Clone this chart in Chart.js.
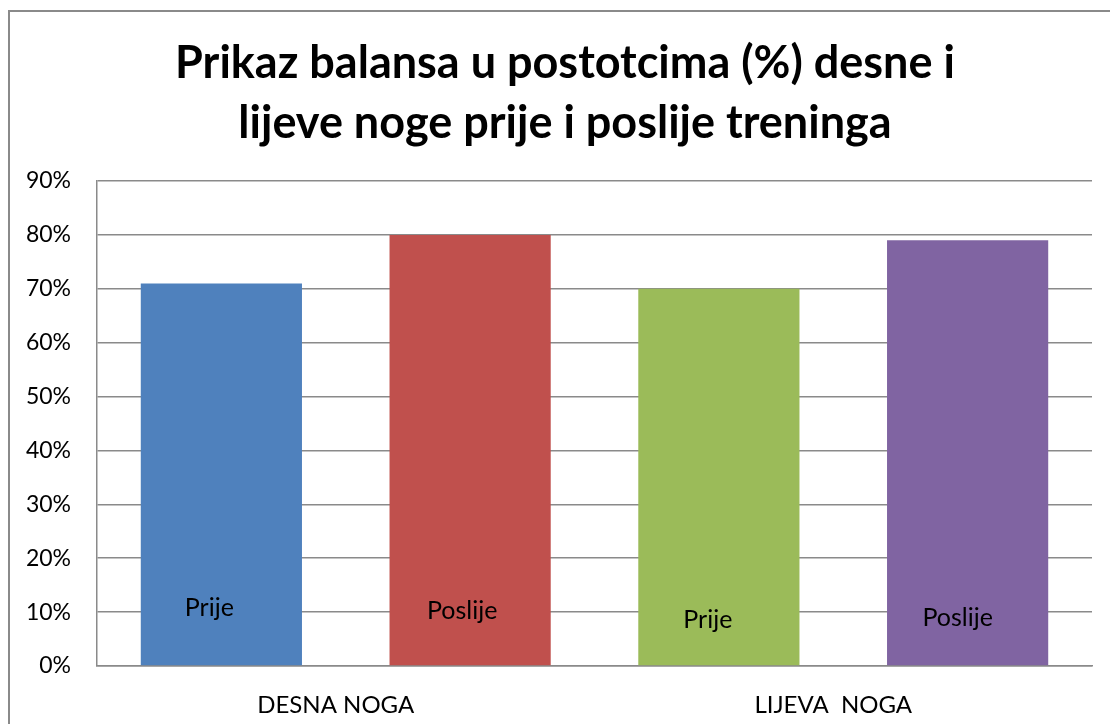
<!DOCTYPE html>
<html>
<head>
<meta charset="utf-8">
<script src="https://cdn.jsdelivr.net/npm/chart.js@4"></script>
<style>
  html, body { margin: 0; padding: 0; background: #fff; }
  #wrap { width: 1110px; height: 724px; position: relative; }
</style>
</head>
<body>
<div id="wrap"><canvas id="myChart"></canvas></div>
<script>
const kategorije = ['DESNA NOGA', 'LIJEVA  NOGA']
const prijeVrijednosti = [71, 70]
const poslijeVrijednosti = [80, 79]
const prijeBoje = ['#4F81BD', '#9BBB59']
const poslijeBoje = ['#C0504D', '#8064A2']
const yOznake = [0, 10, 20, 30, 40, 50, 60, 70, 80, 90]
const naslov = ['Prikaz balansa u postotcima (%) desne i', 'lijeve noge prije i poslije treninga']

// natpisi unutar stupaca (dataset, indeks, tekst, visina u %)
const natpisi = [
    { ds: 0, i: 0, tekst: 'Prije', y: 10.8, dx: -12 },
    { ds: 1, i: 0, tekst: 'Poslije', y: 10.2, dx: -8 },
    { ds: 0, i: 1, tekst: 'Prije', y: 8.6, dx: -11 },
    { ds: 1, i: 1, tekst: 'Poslije', y: 8.9, dx: -10 }
]

const okvirPlugin = {
    id: 'okvir',
    beforeDraw(chart) {
        const ctx = chart.ctx
        ctx.save()
        ctx.strokeStyle = '#8a8a8a'
        ctx.lineWidth = 2
        ctx.beginPath()
        ctx.moveTo(9, 724)
        ctx.lineTo(9, 11)
        ctx.lineTo(1110, 11)
        ctx.stroke()
        ctx.fillStyle = '#000'
        ctx.font = 'bold 45px Lato'
        ctx.textAlign = 'center'
        ctx.textBaseline = 'middle'
        ctx.fillText(naslov[0], 565, 63)
        ctx.fillText(naslov[1], 565, 123)
        ctx.restore()
    },
    afterDatasetsDraw(chart) {
        const ctx = chart.ctx
        const yScale = chart.scales.y
        ctx.save()
        ctx.fillStyle = '#000'
        ctx.font = '25px Lato'
        ctx.textAlign = 'center'
        ctx.textBaseline = 'middle'
        natpisi.forEach((n) => {
            const bar = chart.getDatasetMeta(n.ds).data[n.i]
            ctx.fillText(n.tekst, bar.x + n.dx, yScale.getPixelForValue(n.y))
        })
        ctx.restore()
    }
}

const data = {
    labels: kategorije,
    datasets: [{
        label: 'Prije',
        data: prijeVrijednosti,
        backgroundColor: prijeBoje,
        barPercentage: 0.648,
        categoryPercentage: 1
    }, {
        label: 'Poslije',
        data: poslijeVrijednosti,
        backgroundColor: poslijeBoje,
        barPercentage: 0.648,
        categoryPercentage: 1
    }]
}

const config = {
    type: 'bar',
    data: data,
    plugins: [okvirPlugin],
    options: {
        responsive: false,
        animation: false,
        layout: { padding: { top: 181, right: 18, left: 0, bottom: 0 } },
        plugins: {
            legend: { display: false },
            title: { display: false },
            tooltip: { enabled: false }
        },
        scales: {
            x: {
                grid: { display: false, drawTicks: false },
                border: { display: true, color: '#8a8a8a', width: 1.5 },
                ticks: { color: '#000', font: { family: 'Lato', size: 24 }, padding: 25, labelOffset: -10 },
                afterFit: (scale) => { scale.height = 58 }
            },
            y: {
                min: 0,
                max: 90,
                afterBuildTicks: (scale) => { scale.ticks = yOznake.map((v) => ({ value: v })) },
                grid: { color: '#8a8a8a', lineWidth: 1.5, drawTicks: false },
                border: { display: true, color: '#8a8a8a', width: 1.5 },
                ticks: {
                    color: '#000',
                    font: { family: 'Lato', size: 23 },
                    padding: 26,
                    callback: (v) => v + '%'
                },
                afterFit: (scale) => { scale.width = 97 }
            }
        }
    }
}

const canvas = document.getElementById('myChart')
canvas.width = 1110
canvas.height = 724
new Chart(canvas, config)
</script>
</body>
</html>
